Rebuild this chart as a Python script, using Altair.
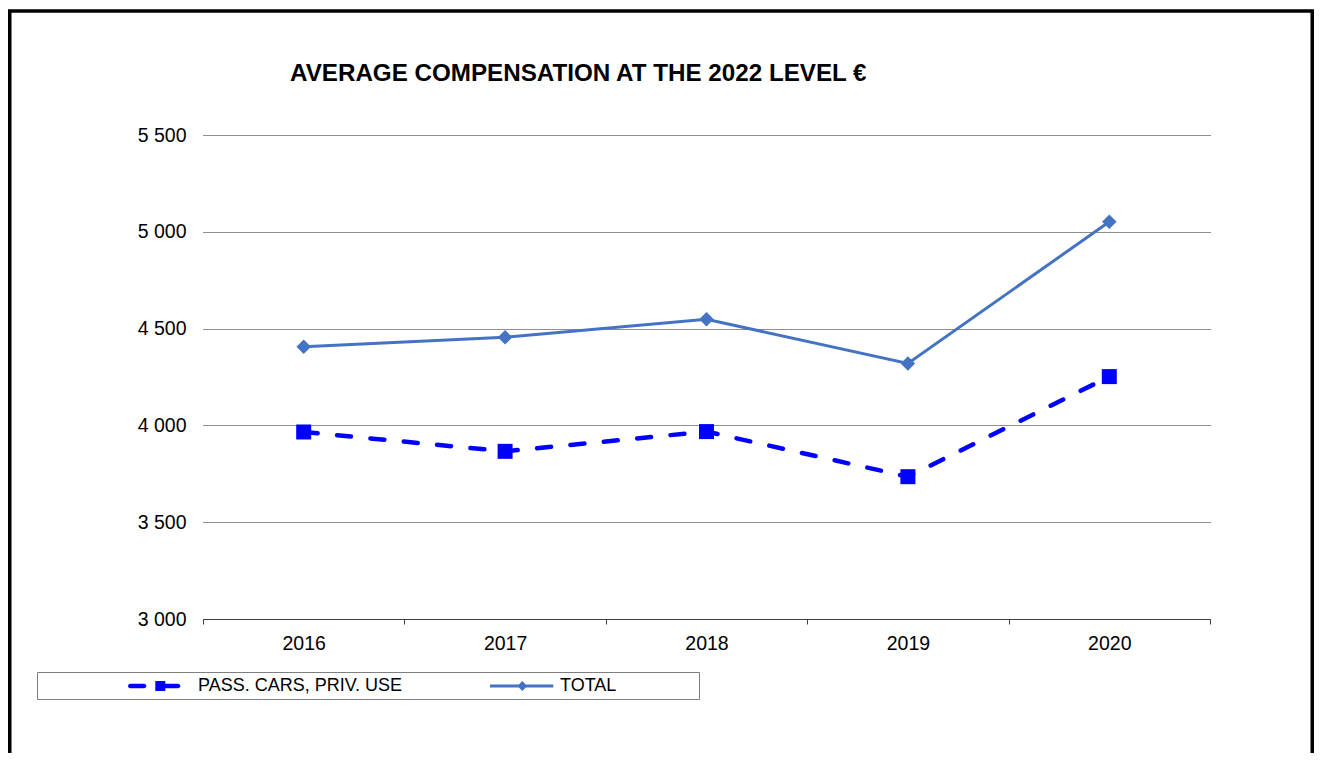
import altair as alt
import pandas as pd

# ---- data ----
YEARS = ["2016", "2017", "2018", "2019", "2020"]
PASS_CARS = [3966, 3866, 3968, 3735, 4252]
TOTAL = [4406, 4455, 4548, 4320, 5052]
SERIES = ["PASS. CARS, PRIV. USE", "TOTAL"]
Y_TICKS = [3000, 3500, 4000, 4500, 5000, 5500]
TITLE = "AVERAGE COMPENSATION AT THE 2022 LEVEL €"

df = pd.DataFrame({
    "year": YEARS * 2,
    "series": [SERIES[0]] * len(YEARS) + [SERIES[1]] * len(YEARS),
    "value": PASS_CARS + TOTAL,
})

FONT = "Liberation Sans"
C_PASS = "#0000FF"
C_TOTAL = "#4472C4"

# legend icons (custom symbol paths, unit = 10 px at symbolSize 400)
ICON_PASS = (
    "M-11.9,0 "
    "M-3.0,-0.225 H-1.625 A0.225,0.225 0 0 1 -1.625,0.225 H-3.0 A0.225,0.225 0 0 1 -3.0,-0.225 Z "
    "M-0.5,-0.5 H0.5 V0.5 H-0.5 Z "
    "M0.5,-0.225 H1.775 A0.225,0.225 0 0 1 1.775,0.225 H0.5 Z"
)
ICON_TOTAL = (
    "M-11.9,0 "
    "M-3.23,-0.15 H3.1 V0.15 H-3.23 Z "
    "M-0.5,0 L0,-0.5 L0.5,0 L0,0.5 Z "
    "M17.2,0"
)

x = alt.X(
    "year:O",
    title=None,
    bandPosition=0.5,
    scale=alt.Scale(type="band", paddingInner=0, paddingOuter=0),
    axis=alt.Axis(
        tickBand="extent", labelAngle=0, grid=False,
        domainColor="#404040", tickColor="#404040", tickSize=5,
        labelPadding=10, labelFontSize=19.5, labelFont=FONT, labelColor="black",
    ),
)
y = alt.Y(
    "value:Q",
    title=None,
    scale=alt.Scale(domain=[3000, 5500], nice=False, zero=False),
    axis=alt.Axis(
        values=Y_TICKS, domain=False, ticks=False, tickSize=0,
        labelPadding=17, labelFontSize=19.5, labelFont=FONT, labelColor="black",
        grid=True, gridColor="#202020", gridDash=[1, 1], gridWidth=1,
        labelExpr="replace(format(datum.value, ','), ',', ' ')",
    ),
)

base = alt.Chart(df).encode(x=x, y=y)

pass_line = base.transform_filter(alt.datum.series == SERIES[0]).mark_line(
    color=C_PASS, strokeWidth=4.5, strokeDash=[14, 19.5], strokeCap="round"
)
pass_pts = base.transform_filter(alt.datum.series == SERIES[0]).mark_point(
    shape="square", filled=True, size=225, color=C_PASS, opacity=1
)
total_line = base.transform_filter(alt.datum.series == SERIES[1]).mark_line(
    color=C_TOTAL, strokeWidth=3
)
total_pts = base.transform_filter(alt.datum.series == SERIES[1]).mark_point(
    shape="diamond", filled=True, size=210, color=C_TOTAL, opacity=1
)

leg = alt.Legend(
    title=None, orient="none", legendX=-166, legendY=537, direction="horizontal",
    padding=4, strokeColor="#7f7f7f", fillColor="white",
    symbolSize=400, symbolStrokeWidth=0, symbolOpacity=1, symbolOffset=109.3,
    labelOffset=27.7, columnPadding=0, labelFontSize=18, labelFont=FONT,
    labelColor="black", labelLimit=600,
)
legend_layer = base.transform_filter("false").mark_point(
    filled=True, opacity=1, size=400
).encode(
    color=alt.Color("series:N", scale=alt.Scale(domain=SERIES, range=[C_PASS, C_TOTAL]), legend=leg),
    shape=alt.Shape("series:N", scale=alt.Scale(domain=SERIES, range=[ICON_PASS, ICON_TOTAL]), legend=leg),
)

frame = alt.Chart(pd.DataFrame({"f": [0]})).mark_rect(
    fillOpacity=0, stroke="black", strokeWidth=3.5
).encode(
    x=alt.value(-193.25), x2=alt.value(1109.25), y=alt.value(-124), y2=alt.value(700)
)

chart = alt.layer(
    frame, pass_line, pass_pts, total_line, total_pts, legend_layer
).properties(
    width=1007,
    height=484,
    title=alt.TitleParams(
        text=TITLE, anchor="start", frame="group", dx=87, fontSize=24.2,
        fontWeight="bold", font=FONT, color="black", baseline="alphabetic", offset=-96,
    ),
    padding={"left": 195, "top": 127, "right": 104, "bottom": 134},
    autosize=alt.AutoSizeParams(type="none"),
).configure(
    font=FONT, background="white"
).configure_view(
    stroke=None
)

chart.save("out.html", embed_options={"renderer": "svg", "actions": False})
